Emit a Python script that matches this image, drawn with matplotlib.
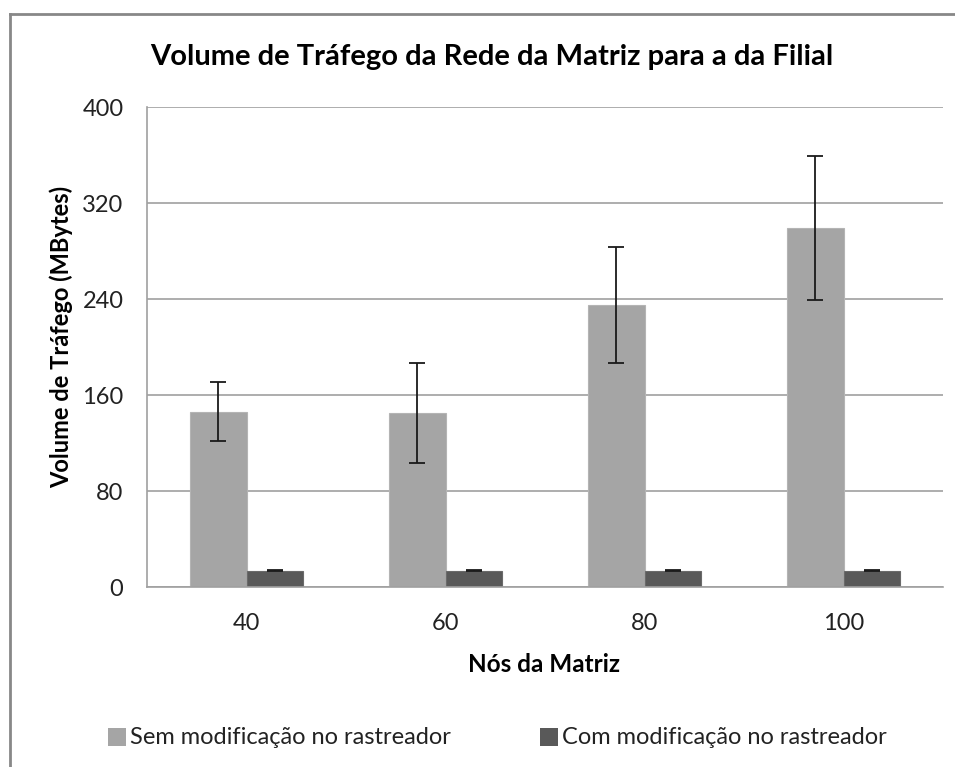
import matplotlib
matplotlib.use("Agg")
import matplotlib.pyplot as plt
import numpy as np
from matplotlib.lines import Line2D
from matplotlib.patches import Rectangle

plt.rcParams['font.family'] = ['Lato', 'DejaVu Sans']

categories = ["40", "60", "80", "100"]
sem_values = [146, 145, 235, 299]
sem_errors = [24.5, 42, 48.5, 60]
com_values = [13.6, 13.6, 13.6, 13.6]
com_errors = [0.6, 0.6, 0.6, 0.6]
series_names = ["Sem modificação no rastreador", "Com modificação no rastreador"]
series_colors = ["#A5A5A5", "#595959"]
yticks = [0, 80, 160, 240, 320, 400]

W, H = 955, 767
fig = plt.figure(figsize=(W/100, H/100), dpi=100)
ax = fig.add_axes([147/W, 1-587/H, (943-147)/W, (587-107)/H])

x = np.arange(len(categories))
w = 0.285
ax.bar(x - w/2, sem_values, w, color=series_colors[0], edgecolor="#B4B4B4", linewidth=0.8, zorder=2)
ax.bar(x + w/2, com_values, w, color=series_colors[1], edgecolor="#6A6A6A", linewidth=0.8, zorder=2)
ax.errorbar(x - w/2, sem_values, yerr=sem_errors, fmt='none', ecolor="#1a1a1a",
            elinewidth=1.3, capsize=6, capthick=1.3, zorder=3)
ax.errorbar(x + w/2, com_values, yerr=com_errors, fmt='none', ecolor="#1a1a1a",
            elinewidth=1.3, capsize=6, capthick=1.3, zorder=3)

ax.set_xlim(-0.5, len(categories) - 0.5)
ax.set_ylim(0, 400)
ax.set_yticks(yticks)
ax.set_yticklabels([str(t) for t in yticks])
ax.set_xticks(x)
ax.set_xticklabels(categories)
ax.tick_params(axis='both', length=0, labelsize=17, colors="#222222")
ax.tick_params(axis='x', pad=19)
ax.tick_params(axis='y', pad=17)
ax.yaxis.grid(True, color="#A0A0A0", linewidth=1.2, zorder=0)
ax.set_axisbelow(True)
for s in ["top", "right"]:
    ax.spines[s].set_visible(False)
ax.spines["left"].set_color("#A0A0A0")
ax.spines["bottom"].set_color("#A0A0A0")
ax.spines["left"].set_linewidth(1.2)
ax.spines["bottom"].set_linewidth(1.2)

fig.text(61/W, 1-337/H, "Volume de Tráfego (MBytes)", rotation=90, ha='center', va='center',
         fontsize=17, fontweight='bold')
fig.text(544/W, 1-665/H, "Nós da Matriz", ha='center', va='center', fontsize=17.5, fontweight='bold')
fig.text(492/W, 1-57/H, "Volume de Tráfego da Rede da Matriz para a da Filial",
         ha='center', va='center', fontsize=21, fontweight='bold')

# legend entries (Excel-style layout)
leg_x = [108, 540]
for lx, name, col in zip(leg_x, series_names, series_colors):
    fig.add_artist(Rectangle((lx/W, 1-746/H), 18/W, 18/H, facecolor=col, edgecolor='none',
                             transform=fig.transFigure))
    fig.text((lx+22)/W, 1-737/H, name, ha='left', va='center', fontsize=17, color="#222222")

# outer chart border (left and top edges visible)
fig.add_artist(Line2D([9.5/W, 9.5/W], [0, 1-14/H], color="#888888", linewidth=2, transform=fig.transFigure))
fig.add_artist(Line2D([9.5/W, 1], [1-14/H, 1-14/H], color="#888888", linewidth=2, transform=fig.transFigure))

fig.savefig("out.png", dpi=100)
